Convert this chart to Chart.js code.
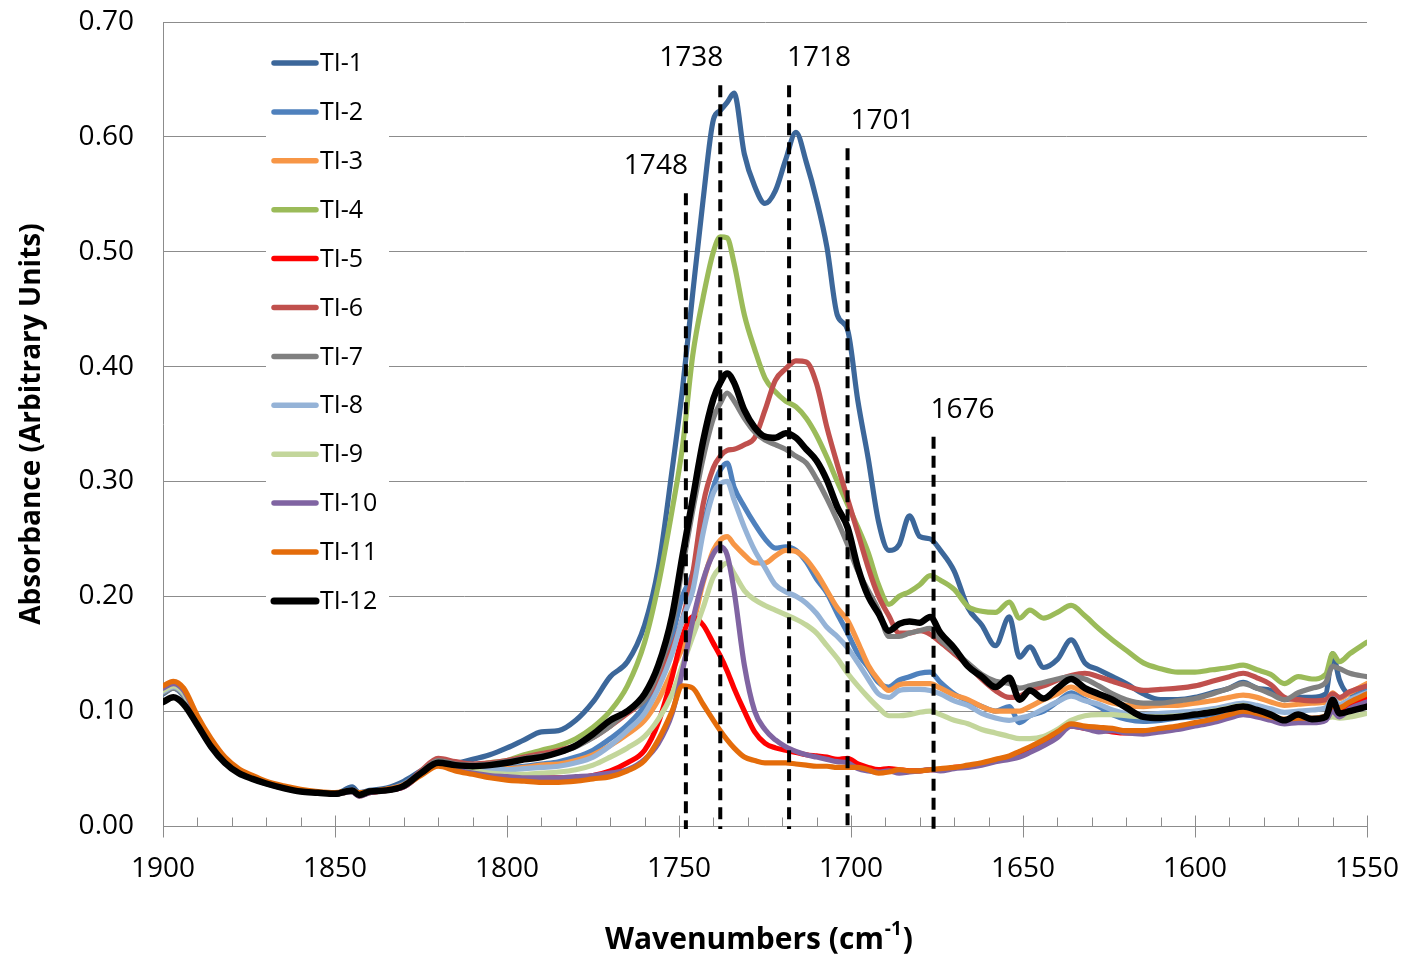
<!DOCTYPE html>
<html>
<head>
<meta charset="utf-8">
<title>TI absorbance spectra</title>
<script src="https://cdn.jsdelivr.net/npm/chart.js@4.4.1/dist/chart.umd.min.js"></script>
<style>
    html, body { margin: 0; padding: 0; background: #fff; }
    #wrap { width: 1408px; height: 961px; }
</style>
</head>
<body>
<div id="wrap"><canvas id="spectra" width="1408" height="961"></canvas></div>
<script>
// wavenumber grid (cm-1), shared by all series
const wavenumbers = [
    1900, 1897, 1894, 1890, 1886, 1882, 1878, 1874, 1870, 1865,
    1860, 1855, 1850, 1845, 1843, 1840, 1835, 1830, 1825, 1820,
    1815, 1810, 1805, 1800, 1795, 1790, 1785, 1780, 1775, 1770,
    1765, 1760, 1756, 1752, 1749, 1746, 1743, 1740, 1738, 1736,
    1734, 1731, 1728, 1725, 1722, 1719, 1716, 1713, 1710, 1707,
    1704, 1701, 1698, 1695, 1692, 1689, 1686, 1683, 1680, 1677,
    1674, 1670, 1666, 1662, 1658, 1654, 1651, 1648, 1644, 1640,
    1636, 1632, 1628, 1624, 1620, 1615, 1610, 1605, 1600, 1595,
    1590, 1586, 1582, 1578, 1574, 1570, 1566, 1562, 1560, 1558,
    1555, 1550
];

const ti1 = [
    0.115, 0.120, 0.113, 0.091, 0.071, 0.056, 0.047, 0.041, 0.037, 0.034,
    0.031, 0.029, 0.028, 0.034, 0.029, 0.031, 0.033, 0.039, 0.048, 0.056,
    0.055, 0.058, 0.062, 0.068, 0.075, 0.082, 0.083, 0.092, 0.108, 0.130,
    0.143, 0.175, 0.225, 0.310, 0.380, 0.464, 0.545, 0.615, 0.623, 0.630,
    0.638, 0.585, 0.557, 0.542, 0.553, 0.580, 0.604, 0.578, 0.545, 0.504,
    0.445, 0.432, 0.370, 0.320, 0.265, 0.240, 0.245, 0.270, 0.252, 0.250,
    0.240, 0.222, 0.190, 0.175, 0.157, 0.182, 0.147, 0.156, 0.138, 0.145,
    0.162, 0.142, 0.136, 0.130, 0.124, 0.115, 0.110, 0.110, 0.112, 0.116,
    0.120, 0.125, 0.120, 0.118, 0.110, 0.112, 0.112, 0.115, 0.150, 0.127,
    0.115, 0.120
];
const ti2 = [
    0.116, 0.121, 0.114, 0.092, 0.072, 0.057, 0.048, 0.042, 0.037, 0.034,
    0.031, 0.029, 0.028, 0.032, 0.028, 0.030, 0.032, 0.037, 0.047, 0.056,
    0.053, 0.051, 0.051, 0.051, 0.052, 0.054, 0.056, 0.060, 0.066, 0.076,
    0.088, 0.105, 0.130, 0.165, 0.200, 0.220, 0.260, 0.295, 0.310, 0.316,
    0.295, 0.278, 0.263, 0.250, 0.242, 0.243, 0.240, 0.230, 0.215, 0.203,
    0.185, 0.168, 0.150, 0.138, 0.125, 0.121, 0.127, 0.130, 0.133, 0.134,
    0.125, 0.115, 0.109, 0.104, 0.100, 0.104, 0.090, 0.096, 0.100, 0.108,
    0.116, 0.110, 0.104, 0.097, 0.093, 0.091, 0.092, 0.094, 0.095, 0.097,
    0.100, 0.103, 0.100, 0.096, 0.092, 0.093, 0.094, 0.096, 0.110, 0.100,
    0.110, 0.118
];
const ti3 = [
    0.120, 0.125, 0.118, 0.094, 0.074, 0.058, 0.049, 0.043, 0.038, 0.034,
    0.031, 0.029, 0.028, 0.030, 0.028, 0.030, 0.032, 0.036, 0.046, 0.054,
    0.050, 0.049, 0.049, 0.050, 0.051, 0.053, 0.054, 0.057, 0.062, 0.070,
    0.080, 0.092, 0.110, 0.135, 0.155, 0.175, 0.212, 0.240, 0.249, 0.252,
    0.245, 0.236, 0.229, 0.229, 0.235, 0.240, 0.239, 0.232, 0.220, 0.205,
    0.190, 0.179, 0.160, 0.140, 0.127, 0.118, 0.123, 0.124, 0.124, 0.124,
    0.120, 0.114, 0.110, 0.104, 0.100, 0.100, 0.100, 0.104, 0.110, 0.115,
    0.121, 0.115, 0.111, 0.107, 0.105, 0.104, 0.105, 0.105, 0.107, 0.109,
    0.112, 0.114, 0.112, 0.108, 0.105, 0.106, 0.107, 0.108, 0.116, 0.111,
    0.116, 0.124
];
const ti4 = [
    0.117, 0.121, 0.115, 0.092, 0.072, 0.057, 0.048, 0.042, 0.037, 0.034,
    0.031, 0.029, 0.028, 0.030, 0.027, 0.030, 0.031, 0.035, 0.046, 0.055,
    0.053, 0.053, 0.055, 0.057, 0.062, 0.066, 0.070, 0.076, 0.086, 0.100,
    0.122, 0.160, 0.210, 0.275, 0.330, 0.410, 0.460, 0.500, 0.513, 0.512,
    0.490, 0.445, 0.415, 0.390, 0.378, 0.370, 0.365, 0.355, 0.340, 0.321,
    0.300, 0.280, 0.260, 0.238, 0.210, 0.193, 0.200, 0.204, 0.210, 0.218,
    0.214, 0.206, 0.191, 0.187, 0.186, 0.195, 0.181, 0.188, 0.181, 0.186,
    0.192, 0.183, 0.172, 0.162, 0.153, 0.142, 0.137, 0.134, 0.134, 0.136,
    0.138, 0.140, 0.136, 0.132, 0.124, 0.130, 0.128, 0.132, 0.150, 0.143,
    0.150, 0.160
];
const ti5 = [
    0.119, 0.123, 0.117, 0.093, 0.073, 0.058, 0.049, 0.043, 0.038, 0.034,
    0.031, 0.029, 0.028, 0.030, 0.027, 0.029, 0.031, 0.034, 0.045, 0.053,
    0.049, 0.047, 0.045, 0.044, 0.043, 0.042, 0.042, 0.042, 0.044, 0.048,
    0.055, 0.066, 0.090, 0.130, 0.165, 0.182, 0.175, 0.159, 0.148, 0.135,
    0.120, 0.100, 0.082, 0.072, 0.068, 0.066, 0.064, 0.062, 0.061, 0.060,
    0.058, 0.059, 0.054, 0.051, 0.049, 0.050, 0.049, 0.048, 0.048, 0.049,
    0.049, 0.051, 0.052, 0.054, 0.057, 0.060, 0.063, 0.066, 0.073, 0.080,
    0.087, 0.085, 0.084, 0.082, 0.081, 0.082, 0.084, 0.086, 0.088, 0.091,
    0.096, 0.099, 0.096, 0.093, 0.090, 0.092, 0.092, 0.094, 0.104, 0.098,
    0.104, 0.112
];
const ti6 = [
    0.120, 0.124, 0.118, 0.094, 0.074, 0.058, 0.049, 0.043, 0.038, 0.034,
    0.031, 0.029, 0.028, 0.030, 0.026, 0.029, 0.031, 0.035, 0.048, 0.059,
    0.056, 0.054, 0.055, 0.057, 0.060, 0.063, 0.066, 0.070, 0.077, 0.087,
    0.098, 0.110, 0.128, 0.155, 0.180, 0.220, 0.280, 0.312, 0.322, 0.327,
    0.328, 0.332, 0.338, 0.362, 0.388, 0.398, 0.405, 0.404, 0.385, 0.347,
    0.315, 0.285, 0.255, 0.225, 0.200, 0.183, 0.168, 0.168, 0.170, 0.167,
    0.160, 0.150, 0.140, 0.128, 0.118, 0.112, 0.113, 0.118, 0.122, 0.127,
    0.131, 0.133, 0.130, 0.126, 0.122, 0.118, 0.119, 0.120, 0.122, 0.126,
    0.130, 0.133, 0.129, 0.123, 0.112, 0.110, 0.109, 0.110, 0.115, 0.112,
    0.117, 0.122
];
const ti7 = [
    0.116, 0.120, 0.114, 0.091, 0.071, 0.056, 0.047, 0.042, 0.037, 0.033,
    0.030, 0.029, 0.028, 0.030, 0.027, 0.030, 0.031, 0.035, 0.047, 0.057,
    0.054, 0.053, 0.054, 0.056, 0.059, 0.061, 0.064, 0.069, 0.077, 0.087,
    0.100, 0.110, 0.135, 0.175, 0.225, 0.275, 0.320, 0.355, 0.368, 0.377,
    0.370, 0.355, 0.343, 0.336, 0.332, 0.328, 0.322, 0.316, 0.302, 0.285,
    0.266, 0.245, 0.222, 0.205, 0.188, 0.165, 0.165, 0.168, 0.170, 0.172,
    0.162, 0.152, 0.142, 0.132, 0.126, 0.124, 0.120, 0.122, 0.125, 0.128,
    0.130, 0.128, 0.122, 0.115, 0.110, 0.107, 0.107, 0.109, 0.111, 0.115,
    0.120, 0.124, 0.120, 0.115, 0.110, 0.116, 0.120, 0.125, 0.139, 0.137,
    0.133, 0.130
];
const ti8 = [
    0.117, 0.121, 0.115, 0.092, 0.072, 0.057, 0.048, 0.042, 0.037, 0.034,
    0.031, 0.029, 0.028, 0.030, 0.027, 0.030, 0.031, 0.035, 0.046, 0.055,
    0.052, 0.050, 0.049, 0.049, 0.050, 0.051, 0.052, 0.055, 0.060, 0.070,
    0.083, 0.098, 0.120, 0.150, 0.180, 0.205, 0.255, 0.290, 0.298, 0.300,
    0.284, 0.260, 0.240, 0.225, 0.210, 0.204, 0.200, 0.194, 0.185, 0.173,
    0.165, 0.155, 0.142, 0.128, 0.115, 0.112, 0.118, 0.119, 0.119, 0.118,
    0.115, 0.109, 0.105, 0.098, 0.094, 0.092, 0.094, 0.096, 0.102, 0.108,
    0.113, 0.109, 0.106, 0.101, 0.098, 0.097, 0.098, 0.099, 0.100, 0.102,
    0.105, 0.107, 0.105, 0.102, 0.099, 0.100, 0.101, 0.103, 0.111, 0.106,
    0.110, 0.116
];
const ti9 = [
    0.118, 0.122, 0.116, 0.093, 0.073, 0.057, 0.048, 0.042, 0.037, 0.034,
    0.031, 0.029, 0.028, 0.030, 0.027, 0.030, 0.031, 0.035, 0.045, 0.054,
    0.050, 0.048, 0.046, 0.045, 0.045, 0.046, 0.047, 0.049, 0.053, 0.060,
    0.068, 0.078, 0.093, 0.115, 0.140, 0.165, 0.190, 0.217, 0.225, 0.229,
    0.220, 0.205, 0.197, 0.192, 0.188, 0.184, 0.180, 0.175, 0.168, 0.157,
    0.146, 0.133, 0.122, 0.112, 0.103, 0.096, 0.096, 0.097, 0.099, 0.100,
    0.097, 0.092, 0.089, 0.084, 0.081, 0.078, 0.076, 0.076, 0.078, 0.084,
    0.092, 0.096, 0.097, 0.097, 0.096, 0.095, 0.095, 0.096, 0.097, 0.100,
    0.103, 0.105, 0.101, 0.097, 0.092, 0.092, 0.093, 0.094, 0.095, 0.094,
    0.095, 0.098
];
const ti10 = [
    0.120, 0.124, 0.118, 0.094, 0.074, 0.058, 0.049, 0.043, 0.038, 0.034,
    0.031, 0.029, 0.028, 0.030, 0.026, 0.029, 0.031, 0.034, 0.045, 0.053,
    0.049, 0.046, 0.044, 0.043, 0.042, 0.042, 0.042, 0.043, 0.044, 0.046,
    0.049, 0.058, 0.072, 0.098, 0.135, 0.179, 0.214, 0.237, 0.243, 0.236,
    0.205, 0.140, 0.100, 0.084, 0.075, 0.069, 0.065, 0.062, 0.060, 0.058,
    0.056, 0.055, 0.050, 0.048, 0.047, 0.048, 0.046, 0.047, 0.048, 0.049,
    0.048, 0.050, 0.051, 0.053, 0.056, 0.058, 0.060, 0.064, 0.070, 0.077,
    0.087, 0.085, 0.082, 0.083, 0.081, 0.080, 0.082, 0.084, 0.087, 0.090,
    0.094, 0.097, 0.095, 0.092, 0.089, 0.090, 0.090, 0.092, 0.100, 0.095,
    0.102, 0.108
];
const ti11 = [
    0.122, 0.126, 0.120, 0.096, 0.076, 0.060, 0.050, 0.044, 0.039, 0.035,
    0.032, 0.030, 0.029, 0.031, 0.029, 0.030, 0.032, 0.035, 0.044, 0.052,
    0.048, 0.045, 0.042, 0.040, 0.039, 0.038, 0.038, 0.039, 0.041, 0.043,
    0.048, 0.057, 0.075, 0.100, 0.122, 0.120, 0.106, 0.092, 0.083, 0.075,
    0.068, 0.060, 0.057, 0.055, 0.055, 0.055, 0.054, 0.053, 0.052, 0.052,
    0.051, 0.051, 0.051, 0.049, 0.046, 0.047, 0.049, 0.048, 0.048, 0.049,
    0.050, 0.051, 0.053, 0.055, 0.058, 0.061, 0.065, 0.069, 0.075, 0.082,
    0.089, 0.087, 0.086, 0.085, 0.083, 0.083, 0.085, 0.087, 0.090, 0.093,
    0.097, 0.100, 0.098, 0.095, 0.093, 0.094, 0.094, 0.096, 0.105, 0.103,
    0.108, 0.115
];
const ti12 = [
    0.108, 0.112, 0.106, 0.088, 0.069, 0.055, 0.046, 0.041, 0.037, 0.033,
    0.030, 0.029, 0.028, 0.031, 0.027, 0.030, 0.031, 0.035, 0.046, 0.055,
    0.053, 0.052, 0.053, 0.055, 0.058, 0.060, 0.064, 0.070, 0.080, 0.092,
    0.100, 0.115, 0.140, 0.183, 0.235, 0.285, 0.335, 0.372, 0.386, 0.394,
    0.386, 0.362, 0.347, 0.339, 0.338, 0.342, 0.338, 0.328, 0.318, 0.301,
    0.278, 0.260, 0.225, 0.200, 0.185, 0.170, 0.176, 0.178, 0.177, 0.182,
    0.168, 0.155, 0.139, 0.130, 0.121, 0.129, 0.110, 0.118, 0.111, 0.120,
    0.128, 0.120, 0.115, 0.110, 0.103, 0.095, 0.094, 0.095, 0.097, 0.099,
    0.102, 0.104, 0.101, 0.097, 0.092, 0.097, 0.093, 0.095, 0.110, 0.098,
    0.100, 0.104
];

const seriesNames = ['TI-1', 'TI-2', 'TI-3', 'TI-4', 'TI-5', 'TI-6',
                     'TI-7', 'TI-8', 'TI-9', 'TI-10', 'TI-11', 'TI-12'];
const seriesValues = [ti1, ti2, ti3, ti4, ti5, ti6, ti7, ti8, ti9, ti10, ti11, ti12];
const seriesColors = ['#3C679A', '#4F81BD', '#F79646', '#9BBB59', '#FF0000', '#C0504D',
                      '#808080', '#95B3D7', '#C3D69B', '#8064A2', '#E46C0A', '#000000'];

const xTickValues = [1900, 1850, 1800, 1750, 1700, 1650, 1600, 1550];
const yTickValues = [0, 0.1, 0.2, 0.3, 0.4, 0.5, 0.6, 0.7];

// marked bands: wavenumber and the absorbance where the dashed line starts
const bandPositions = [1748, 1738, 1718, 1701, 1676];
const bandTops = [0.551, 0.645, 0.645, 0.590, 0.339];

const FONT = "'Open Sans', 'DejaVu Sans', sans-serif";
const GRID = '#8C8C8C';

seriesValues.forEach((s, i) => {
    if (s.length !== wavenumbers.length) console.error(seriesNames[i] + ' length ' + s.length);
});

// small tick marks on the x axis (majors cross the axis, minors sit above)
const axisTickMarks = {
    id: 'axisTickMarks',
    afterDraw(chart) {
        const ctx = chart.ctx;
        const xs = chart.scales.x;
        const y0 = Math.round(chart.chartArea.bottom) + 0.5;
        ctx.save();
        ctx.strokeStyle = GRID;
        ctx.lineWidth = 1;
        for (let w = 1550; w <= 1900; w += 10) {
            const px = Math.round(xs.getPixelForValue(w)) + 0.5;
            const major = (w - 1550) % 50 === 0;
            ctx.beginPath();
            ctx.moveTo(px, y0 - (major ? 11 : 9));
            ctx.lineTo(px, y0 + (major ? 11 : 0));
            ctx.stroke();
        }
        ctx.restore();
    }
};

// dashed lines with their wavenumber labels
const labelShift = [-30, -29, 30, 35, 29];
const bandMarkers = {
    id: 'bandMarkers',
    afterDatasetsDraw(chart) {
        const ctx = chart.ctx;
        const xs = chart.scales.x, ys = chart.scales.y;
        ctx.save();
        ctx.strokeStyle = '#000';
        ctx.lineWidth = 4;
        ctx.setLineDash([12, 7]);
        ctx.font = '28px ' + FONT;
        ctx.fillStyle = '#000';
        ctx.textAlign = 'center';
        ctx.textBaseline = 'middle';
        bandPositions.forEach((w, i) => {
            const px = xs.getPixelForValue(w);
            const top = ys.getPixelForValue(bandTops[i]);
            ctx.beginPath();
            ctx.moveTo(px, top);
            ctx.lineTo(px, ys.getPixelForValue(0) + 3);
            ctx.stroke();
            ctx.fillText(String(w), px + labelShift[i], top - 27);
        });
        ctx.restore();
    }
};

// Excel-style legend box inside the plot
const boxLegend = {
    id: 'boxLegend',
    afterDraw(chart) {
        const ctx = chart.ctx;
        ctx.save();
        ctx.fillStyle = '#fff';
        ctx.fillRect(266, 40, 123, 582);
        ctx.font = '25px ' + FONT;
        ctx.textAlign = 'left';
        ctx.textBaseline = 'middle';
        ctx.lineCap = 'round';
        seriesNames.forEach((name, i) => {
            const y = 63 + i * 48.9;
            ctx.strokeStyle = seriesColors[i];
            ctx.lineWidth = i === 11 ? 7 : 5.5;
            ctx.beginPath();
            ctx.moveTo(274, y);
            ctx.lineTo(316, y);
            ctx.stroke();
            ctx.fillStyle = '#000';
            ctx.fillText(name, 320, y + 1);
        });
        ctx.restore();
    }
};

// x axis title with a real superscript
const xAxisTitle = {
    id: 'xAxisTitle',
    afterDraw(chart) {
        const ctx = chart.ctx;
        const cx = (chart.chartArea.left + chart.chartArea.right) / 2 - 7;
        const y = 940;
        const big = 'bold 30px ' + FONT, small = 'bold 19px ' + FONT;
        ctx.save();
        ctx.fillStyle = '#000';
        ctx.textBaseline = 'middle';
        ctx.textAlign = 'left';
        ctx.font = big;
        const a = 'Wavenumbers (cm', c = ')';
        const wa = ctx.measureText(a).width, wc = ctx.measureText(c).width;
        ctx.font = small;
        const b = '-1';
        const wb = ctx.measureText(b).width;
        let x = cx - (wa + wb + wc) / 2;
        ctx.font = big;
        ctx.fillText(a, x, y);
        ctx.font = small;
        ctx.fillText(b, x + wa + 1, y - 10);
        ctx.font = big;
        ctx.fillText(c, x + wa + wb + 2, y);
        ctx.restore();
    }
};

const datasets = seriesNames.map((name, i) => ({
    label: name,
    data: wavenumbers.map((w, j) => ({ x: w, y: seriesValues[i][j] })),
    borderColor: seriesColors[i],
    backgroundColor: seriesColors[i],
    borderWidth: i === 11 ? 6.5 : 5.2,
    borderJoinStyle: 'round',
    borderCapStyle: 'round',
    pointRadius: 0,
    cubicInterpolationMode: 'monotone',
    fill: false,
    order: 11 - i
}));

new Chart(document.getElementById('spectra'), {
    type: 'line',
    data: { datasets: datasets },
    options: {
        responsive: false,
        animation: false,
        layout: { padding: { top: 22, right: 41, bottom: 0, left: 0 } },
        plugins: {
            legend: { display: false },
            tooltip: { enabled: false }
        },
        scales: {
            x: {
                type: 'linear',
                reverse: true,
                min: 1550,
                max: 1900,
                afterBuildTicks: (scale) => { scale.ticks = xTickValues.map(v => ({ value: v })); },
                afterFit: (scale) => { scale.height = 135; scale.paddingLeft = 0; scale.paddingRight = 0; },
                grid: { display: false, drawTicks: false },
                border: { display: true, color: GRID, width: 1 },
                ticks: {
                    padding: 26,
                    color: '#000',
                    font: { family: FONT, size: 28 },
                    maxRotation: 0,
                    callback: (v) => String(v)
                },
                title: { display: false }
            },
            y: {
                min: 0,
                max: 0.7,
                afterBuildTicks: (scale) => { scale.ticks = yTickValues.map(v => ({ value: v })); },
                afterFit: (scale) => { scale.width = 163; scale.paddingTop = 0; scale.paddingBottom = 0; },
                grid: { color: GRID, lineWidth: 1, drawTicks: false },
                border: { display: true, color: GRID, width: 1 },
                ticks: {
                    padding: 29,
                    color: '#000',
                    font: { family: FONT, size: 28 },
                    callback: (v) => v.toFixed(2)
                },
                title: {
                    display: true,
                    text: 'Absorbance (Arbitrary Units)',
                    color: '#000',
                    font: { family: FONT, size: 28, weight: 'bold' },
                    padding: { top: 15, bottom: 0 }
                }
            }
        }
    },
    plugins: [axisTickMarks, bandMarkers, boxLegend, xAxisTitle]
});
</script>
</body>
</html>
